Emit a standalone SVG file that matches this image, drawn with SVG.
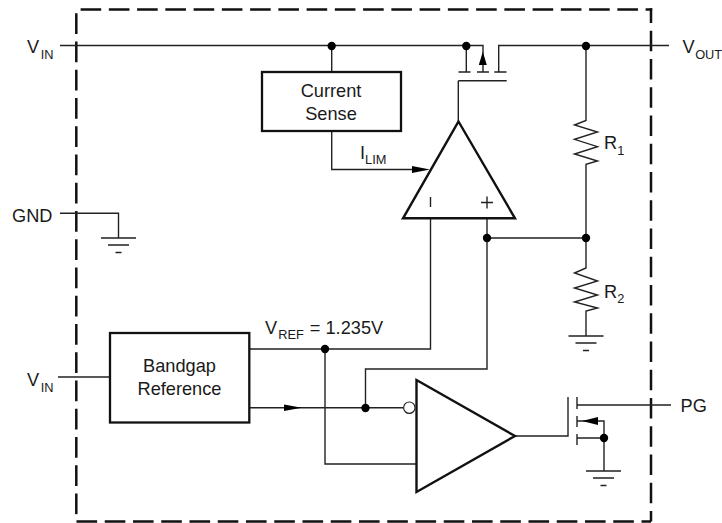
<svg xmlns="http://www.w3.org/2000/svg" width="722" height="523" viewBox="0 0 722 523">
<style>
text{font-family:"Liberation Sans",Arial,sans-serif;font-size:18.200px;fill:#1a1a1a}
.sub{font-size:12.800px}
.c{text-anchor:middle}
.w{fill:none;stroke:#222;stroke-width:1.400}
.box{fill:#fff;stroke:#111;stroke-width:2.300}
.amp{fill:#fff;stroke:#111;stroke-width:2.400;stroke-linejoin:miter}
.bd{fill:none;stroke:#111;stroke-width:2.500;stroke-dasharray:20.600 7.650}
.d{fill:#000}
.a{fill:#000}
</style>
<defs>
<g id="gnd"><path class="w" d="M-17.500 0H17.500M-10.500 7H10.500M-3 14.500H3"/></g>
</defs>
<g id="boundary">
<path class="bd" d="M651 8.300V521.500" stroke-dashoffset="5.900"/>
<path class="bd" d="M652.200 9.500H76.300" stroke-dashoffset="14"/>
<path class="bd" d="M76.300 13.300V521"/>
<path class="bd" d="M76.500 521.500H651"/>
</g>
<g id="connectors">
<path class="w" d="M60 45.500H483V72M466.300 46V72M458.500 72H470.500M477 72H489M494.300 72H506.500M498.700 72V45.500H669M458.300 80.700H506.700M458.300 80.700V121"/>
<path class="a" d="M482.800 51.700L486.800 65H478.800Z"/>
<path class="w" d="M331.700 46V72M331.700 131V169.500H414"/>
<path class="a" d="M430 169.500L412 166V173Z"/>
<path class="w" d="M586 46V120.500L574.500 125L597.500 132L574.500 139.300L597.500 146.700L574.500 154L597.500 161L586 164.300V268L574.500 273L597.500 281L574.500 288L597.500 295L574.500 302L597.500 308L586 311V336"/>
<path class="w" d="M487 238H586M487 218V369H365.500V408M249 349H430.500V218M325 349V464H416M110 377H58M249 407.700H403"/>
<path class="a" d="M301.700 407.700L284 404.400V411Z"/>
<path class="w" d="M60 213.300H118.500V238"/>
<path class="w" d="M516 436H568V397M577 397V409M577 416V427M577 434V445M577 405H671M577 421H604V471M577 438H604"/>
<path class="a" d="M582 421L598 417V425Z"/>
<circle class="d" cx="331.700" cy="46" r="4.200"/>
<circle class="d" cx="466.300" cy="46" r="4.200"/>
<circle class="d" cx="586" cy="46" r="4.200"/>
<circle class="d" cx="586" cy="238" r="4.200"/>
<circle class="d" cx="487" cy="238" r="4.200"/>
<circle class="d" cx="325" cy="349" r="4.200"/>
<circle class="d" cx="365.500" cy="408" r="4.200"/>
<circle class="d" cx="604" cy="438" r="4.200"/>
<use href="#gnd" x="118.500" y="238"/>
<use href="#gnd" x="586" y="336"/>
<use href="#gnd" x="603.500" y="471"/>
</g>
<g id="current-sense">
<rect class="box" x="262" y="72" width="139" height="59"/>
<text class="c" x="331" y="97">Current</text>
<text class="c" x="331" y="120">Sense</text>
</g>
<g id="bandgap">
<rect class="box" x="110" y="333" width="139.300" height="89.500"/>
<text class="c" x="179.500" y="372">Bandgap</text>
<text class="c" x="179.500" y="395">Reference</text>
</g>
<g id="error-amp">
<path class="amp" d="M458.500 121.500L515 218.300H403Z"/>
<path class="w" d="M430.500 197V207M481 202.500H493M487 196.500V208.500"/>
</g>
<g id="comparator">
<path class="amp" d="M416.500 380L515 436L416.500 492Z"/>
<circle cx="409.300" cy="407.700" r="5.700" fill="#fff" stroke="#222" stroke-width="1.200"/>
</g>
<g id="labels">
<text x="27" y="52.500">V<tspan class="sub" dx="1.500" dy="6">IN</tspan></text>
<text x="27" y="386">V<tspan class="sub" dx="1.500" dy="6">IN</tspan></text>
<text x="12" y="221.500">GND</text>
<text x="682.500" y="53">V<tspan class="sub" dx="0.500" dy="5.500">OUT</tspan></text>
<text x="680.500" y="411.500">PG</text>
<text x="360" y="159">I<tspan class="sub" dy="5">LIM</tspan></text>
<text x="604" y="148.500">R<tspan class="sub" dy="6">1</tspan></text>
<text x="604" y="298">R<tspan class="sub" dy="5">2</tspan></text>
<text x="265" y="334">V<tspan class="sub" dx="1" dy="5">REF</tspan><tspan dx="1" dy="-5"> = 1.235V</tspan></text>
</g>
</svg>
